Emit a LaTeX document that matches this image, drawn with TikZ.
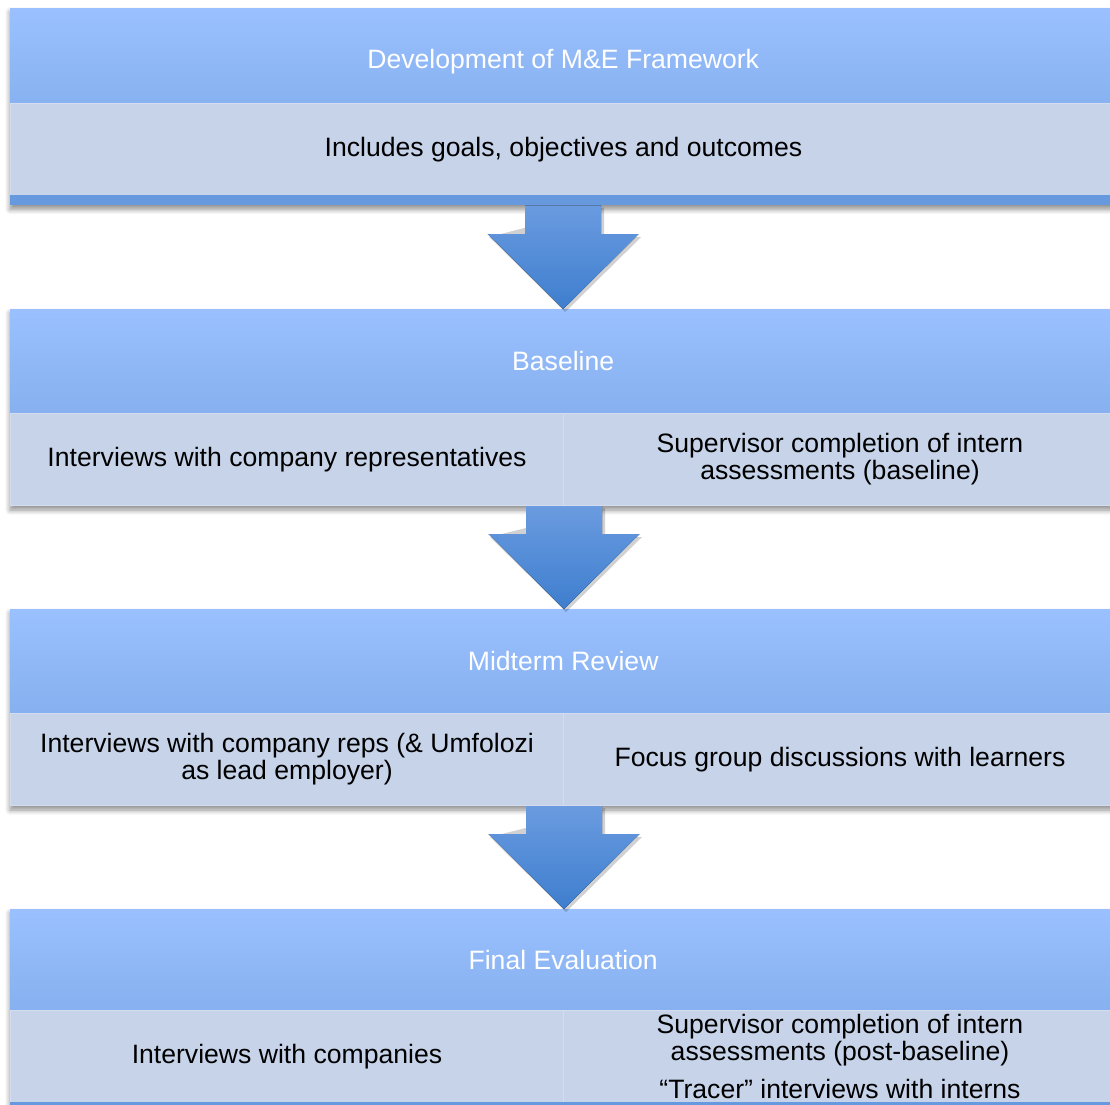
\documentclass[tikz,border=0pt]{standalone}
\usepackage{fontspec}
\setmainfont{Liberation Sans}
\usetikzlibrary{calc,backgrounds,shadows.blur}

\definecolor{headtop}{HTML}{9AC0FF}
\definecolor{headbot}{HTML}{86B0EF}
\definecolor{rowfill}{HTML}{C6D3E9}
\definecolor{rowline}{HTML}{D3DDEF}
\definecolor{barblue}{HTML}{6699DD}
\definecolor{arrowtop}{HTML}{6A9BE0}
\definecolor{arrowbot}{HTML}{3E7ECE}

\begin{document}
\begin{tikzpicture}[x=1pt, y=-1pt,
    every node/.style={inner sep=0pt, anchor=north west, align=center,
      font=\fontsize{26.6}{27}\selectfont},
    header/.style={top color=headtop, bottom color=headbot, text=white,
      minimum width=1106pt, minimum height=#1},
    cell/.style={fill=rowfill, draw=rowline, line width=1pt, text=black,
      minimum width=#1, minimum height=92pt},
    bar/.style={fill=barblue, minimum width=1106pt, minimum height=10pt},
    blockshadow/.style={blur shadow={shadow xshift=0pt, shadow yshift=-4pt,
      shadow blur radius=5pt, shadow blur steps=8, shadow opacity=45}},
    arrowfill/.style={top color=arrowtop, bottom color=arrowbot},
    arrowshadow/.style={fill=black, opacity=0.18}]

  \useasboundingbox (0,0) rectangle (1110,1104);
  \clip (0,0) rectangle (1110,1104);

  % Development of M&E Framework
  \node[header=106pt] (dev) at (10,8) {Development of M\&E Framework};
  \node[cell=1106pt] (devrow) at (10,103) {Includes goals, objectives and outcomes};
  \node[bar] (devbar) at (10,195) {};

  % Baseline
  \node[header=104pt] (base) at (10,309) {Baseline};
  \node[cell=553pt] (baseleft) at (10,413) {Interviews with company representatives};
  \node[cell=553pt] (baseright) at (563,413) {Supervisor completion of intern\\assessments (baseline)};

  % Midterm Review
  \node[header=104pt] (mid) at (10,609) {Midterm Review};
  \node[cell=553pt] (midleft) at (10,713) {Interviews with company reps (\& Umfolozi\\as lead employer)};
  \node[cell=553pt] (midright) at (563,713) {Focus group discussions with learners};

  % Final Evaluation
  \node[header=101pt] (final) at (10,909) {Final Evaluation};
  \node[cell=553pt] (finalleft) at (10,1010) {Interviews with companies};
  \node[cell=553pt] (finalright) at (563,1010) {Supervisor completion of intern\\assessments (post-baseline)\\[11pt]“Tracer” interviews with interns};
  \node[bar] (finalbar) at (10,1102) {};

  % Shadows
  \begin{scope}[on background layer]
    \path[blockshadow] (dev.north west) rectangle (devbar.south east);
    \path[blockshadow] (base.north west) rectangle (baseright.south east);
    \path[blockshadow] (mid.north west) rectangle (midright.south east);
    \path[blockshadow] (final.north west) rectangle (finalbar.south east);
  \end{scope}

  % Arrows
  \foreach \from/\to in {devbar.south/base.north, baseleft.south east/mid.north, midleft.south east/final.north}{
    \fill[arrowshadow] let \p1=(\from), \p2=(\to) in
      (\x1+41pt,\y1-2pt) -- (\x1+41pt,\y2+72pt) -- (\x1+78pt,\y2+72pt)
      -- (\x1+2pt,\y2-3pt) -- (\x1-74pt,\y2+72pt) -- cycle;
    \fill[arrowfill] let \p1=(\from), \p2=(\to) in
      (\x1-38pt,\y1) -- (\x1+38pt,\y1) -- (\x1+38pt,\y2+75pt) -- (\x1+75.5pt,\y2+75pt)
      -- (\x1,\y2) -- (\x1-75.5pt,\y2+75pt) -- (\x1-38pt,\y2+75pt) -- cycle;
  }

\end{tikzpicture}
\end{document}
